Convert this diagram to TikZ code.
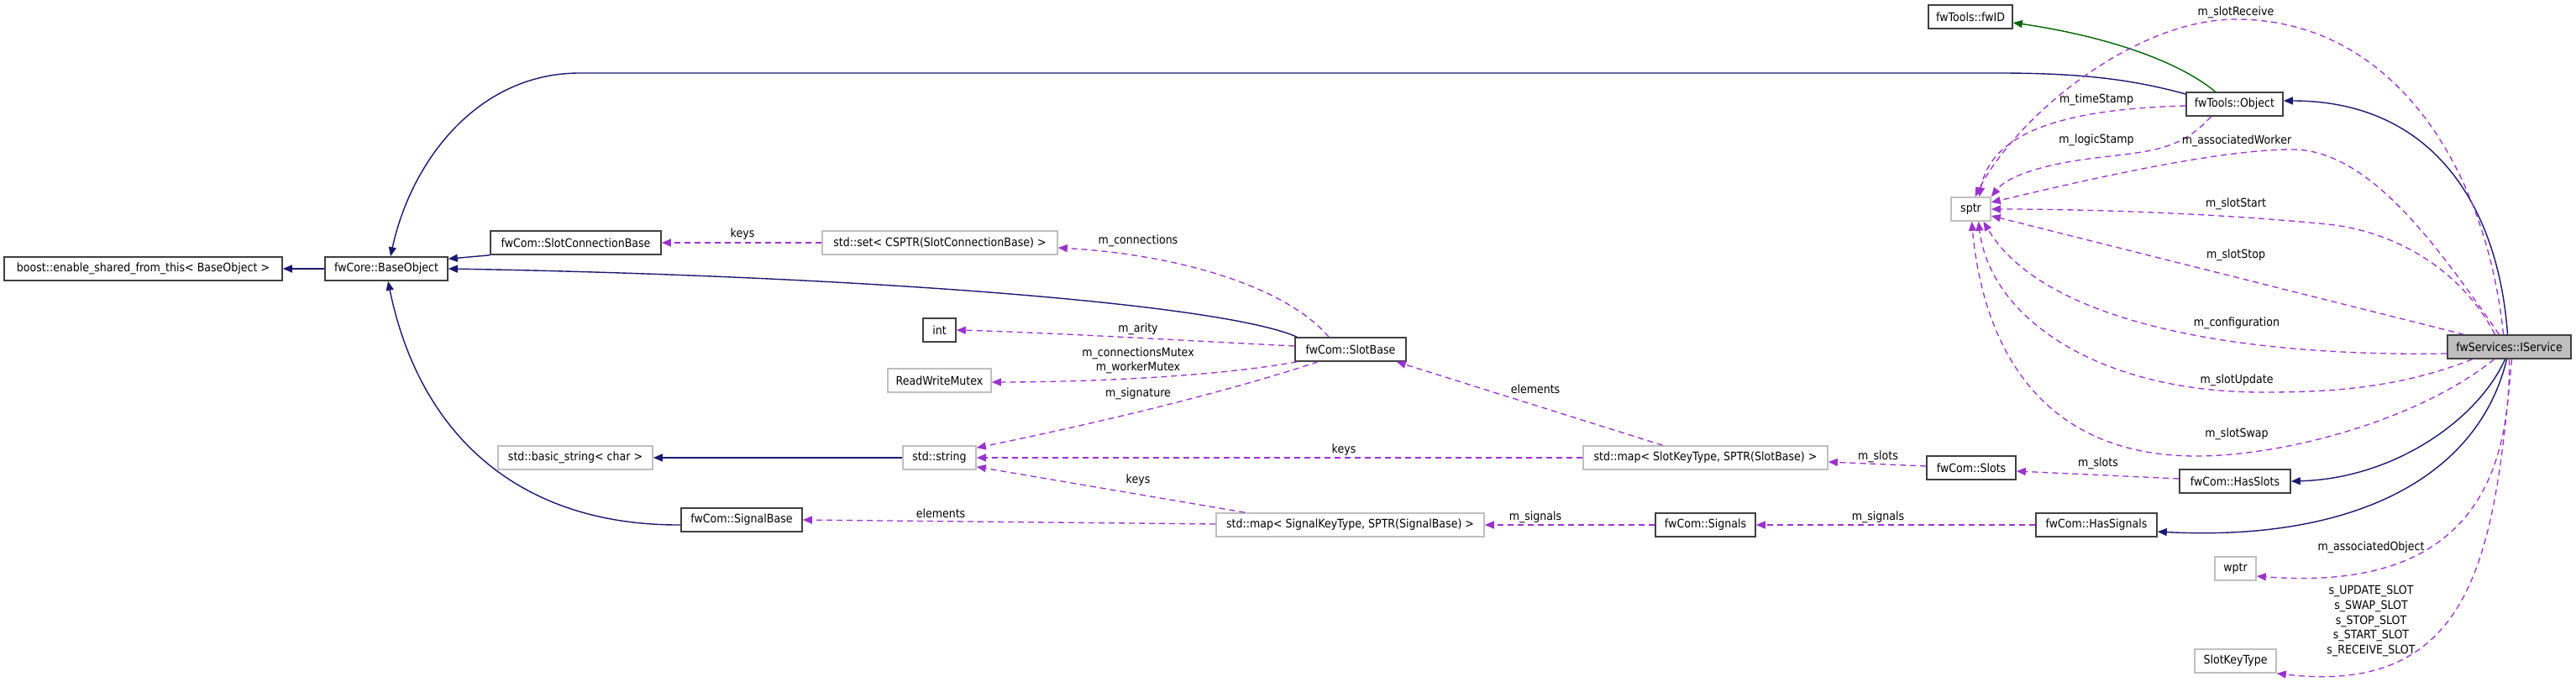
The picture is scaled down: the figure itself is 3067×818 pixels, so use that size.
\documentclass[tikz,border=0pt]{standalone}
\usepackage{fontspec}
\setmainfont{DejaVu Sans}[FakeStretch=0.9]
\usetikzlibrary{arrows.meta,calc}
\definecolor{inhblue}{HTML}{191970}
\definecolor{usepurple}{HTML}{9A32CD}
\definecolor{protgreen}{HTML}{006400}
\definecolor{graybox}{HTML}{BFBFBF}
\tikzset{
  cls/.style={draw=black!75, line width=1.6pt, fill=white, minimum height=28pt, inner sep=0pt, font=\fontsize{14}{16}\selectfont},
  ext/.style={cls, draw=graybox},
  cur/.style={cls, fill=graybox},
  tip/.style={-{Triangle[length=11pt,width=9pt]}},
  inh/.style={draw=inhblue, line width=1.4pt, tip},
  use/.style={draw=usepurple, line width=1.3pt, dash pattern=on 7pt off 5pt, tip},
  grn/.style={draw=protgreen, line width=1.4pt, tip},
  lbl/.style={font=\fontsize{14}{16}\selectfont, inner sep=0pt, text=black},
}
\begin{document}
\begin{tikzpicture}[x=1pt,y=-1pt]
\useasboundingbox (0,0) rectangle (3067,818);
\fill[white] (0,0) rectangle (3067,818);
% nodes
\node[cls, minimum width=331pt] (boost) at (170.5,320) {boost::enable\_shared\_from\_this< BaseObject >};
\node[cls, minimum width=146pt] (base) at (460,320) {fwCore::BaseObject};
\node[cls, minimum width=203pt] (scb) at (685.5,289) {fwCom::SlotConnectionBase};
\node[ext, minimum width=280pt] (set) at (1119,289) {std::set< CSPTR(SlotConnectionBase) >};
\node[cls, minimum width=39pt] (int) at (1118.5,393) {int};
\node[ext, minimum width=123pt] (rwm) at (1118.5,453) {ReadWriteMutex};
\node[cls, minimum width=132pt] (slotbase) at (1608,416) {fwCom::SlotBase};
\node[ext, minimum width=184pt] (basicstr) at (685,545) {std::basic\_string< char >};
\node[ext, minimum width=87pt] (string) at (1118.5,545) {std::string};
\node[cls, minimum width=144pt] (sigbase) at (883,619) {fwCom::SignalBase};
\node[ext, minimum width=319pt] (mapsig) at (1607.5,625) {std::map< SignalKeyType, SPTR(SignalBase) >};
\node[ext, minimum width=291pt] (mapslot) at (2030.5,545) {std::map< SlotKeyType, SPTR(SlotBase) >};
\node[cls, minimum width=106pt] (slots) at (2347,557) {fwCom::Slots};
\node[cls, minimum width=119pt] (signals) at (2030.5,625) {fwCom::Signals};
\node[cls, minimum width=132pt] (hasslots) at (2661,573) {fwCom::HasSlots};
\node[cls, minimum width=144pt] (hassignals) at (2496,625) {fwCom::HasSignals};
\node[cur, minimum width=147pt] (iservice) at (2987.5,413) {fwServices::IService};
\node[ext, minimum width=47pt] (sptr) at (2346.5,249) {sptr};
\node[cls, minimum width=115pt] (object) at (2660.5,124) {fwTools::Object};
\node[cls, minimum width=100pt] (fwid) at (2346,20) {fwTools::fwID};
\node[ext, minimum width=49pt] (wptr) at (2661.5,677) {wptr};
\node[ext, minimum width=97pt] (slotkey) at (2661.5,787) {SlotKeyType};
% inheritance
\draw[inh] (base.west) -- (boost.east);
\draw[inh] (scb.south west) -- ($(base.north east)+(0,3)$);
\draw[inh] ($(slotbase.north west)+(3,0)$) .. controls (1450,360) and (1000,328) .. (base.east);
\draw[inh] ($(object.west)+(0,-12)$) .. controls (2540,95) and (2480,87) .. (2380,87) -- (690,87) .. controls (570,87) and (490,190) .. ($(base.north)+(5,0)$);
\draw[inh] ($(sigbase.west)+(0,6)$) .. controls (620,626) and (500,520) .. ($(base.south)+(2,0)$);
\draw[inh] (string.west) -- (basicstr.east);
\draw[inh] ($(iservice.north)+(-2,0)$) .. controls (2975,250) and (2900,120) .. ($(object.east)+(0,-4)$);
\draw[inh] ($(iservice.south)+(-5,0)$) .. controls (2950,500) and (2850,570) .. (hasslots.east);
\draw[inh] ($(iservice.south)+(-3,0)$) .. controls (2950,570) and (2800,645) .. ($(hassignals.east)+(0,8)$);
\draw[grn] ($(object.north)+(-23,0)$) .. controls (2590,70) and (2500,42) .. ($(fwid.east)+(0,7)$);
% usage
\draw[use] (set.west) -- (scb.east) node[lbl, at={(884,279)}] {keys};
\draw[use] ($(slotbase.north)+(-26,0)$) .. controls (1530,340) and (1400,303) .. ($(set.east)+(0,6)$) node[lbl, at={(1355,287)}] {m\_connections};
\draw[use] ($(slotbase.west)+(0,-4)$) .. controls (1400,405) and (1250,396) .. (int.east) node[lbl, at={(1355,392)}] {m\_arity};
\draw[use] ($(slotbase.south west)+(3,0)$) .. controls (1450,448) and (1300,455) .. ($(rwm.east)+(0,2)$) node[lbl, at={(1355,421)}] {m\_connectionsMutex} node[lbl, at={(1355,438)}] {m\_workerMutex};
\draw[use] ($(slotbase.south west)+(28,0)$) .. controls (1450,470) and (1300,505) .. ($(string.north east)+(0,3)$) node[lbl, at={(1355,469)}] {m\_signature};
\draw[use] (mapslot.west) -- (string.east) node[lbl, at={(1600,536)}] {keys};
\draw[use] ($(mapsig.north west)+(35,0)$) -- ($(string.south east)+(0,-4)$) node[lbl, at={(1355,572)}] {keys};
\draw[use] ($(mapsig.west)+(0,-1)$) -- (sigbase.east) node[lbl, at={(1120,611)}] {elements};
\draw[use] ($(mapslot.north)+(-51,0)$) -- ($(slotbase.south east)+(-12,0)$) node[lbl, at={(1828,463)}] {elements};
\draw[use] ($(slots.west)+(0,-2)$) -- ($(mapslot.east)+(0,5)$) node[lbl, at={(2236,544)}] {m\_slots};
\draw[use] (signals.west) -- (mapsig.east) node[lbl, at={(1828,616)}] {m\_signals};
\draw[use] (hassignals.west) -- (signals.east) node[lbl, at={(2236,616)}] {m\_signals};
\draw[use] ($(hasslots.west)+(0,-3)$) -- ($(slots.east)+(0,4)$) node[lbl, at={(2498,552)}] {m\_slots};
% sptr members
\draw[use] ($(object.west)+(0,2)$) .. controls (2450,130) and (2370,160) .. ($(sptr.north)+(10,0)$) node[lbl, at={(2496,119)}] {m\_timeStamp};
\draw[use] ($(object.south)+(-28,0)$) .. controls (2595,180) and (2560,180) .. (2495,188) .. controls (2430,196) and (2390,210) .. (sptr.north east) node[lbl, at={(2496,167)}] {m\_logicStamp};
\draw[use] ($(iservice.north)+(-7,0)$) .. controls (2960,200) and (2850,23) .. (2662,23) .. controls (2540,23) and (2400,140) .. ($(sptr.north)+(5,0)$) node[lbl, at={(2662,15)}] {m\_slotReceive};
\draw[use] ($(iservice.north)+(-12,0)$) .. controls (2900,290) and (2820,178) .. (2729,178) .. controls (2640,178) and (2480,215) .. ($(sptr.east)+(0,-8)$) node[lbl, at={(2663,168)}] {m\_associatedWorker};
\draw[use] ($(iservice.north)+(-17,0)$) .. controls (2930,320) and (2850,275) .. (2771,267) .. controls (2650,255) and (2500,249) .. (sptr.east) node[lbl, at={(2662,243)}] {m\_slotStart};
\draw[use] ($(iservice.north)+(-54,0)$) -- ($(sptr.east)+(0,8)$) node[lbl, at={(2662,304)}] {m\_slotStop};
\draw[use] ($(iservice.west)+(0,8)$) .. controls (2650,425) and (2430,380) .. ($(sptr.south)+(15,0)$) node[lbl, at={(2663,385)}] {m\_configuration};
\draw[use] ($(iservice.south)+(-44,0)$) .. controls (2850,465) and (2760,467) .. (2693,467) .. controls (2500,467) and (2370,380) .. ($(sptr.south)+(9,0)$) node[lbl, at={(2663,453)}] {m\_slotUpdate};
\draw[use] ($(iservice.south)+(-18,0)$) .. controls (2880,500) and (2720,543) .. (2615,543) .. controls (2420,543) and (2360,400) .. ($(sptr.south)+(1,0)$) node[lbl, at={(2663,517)}] {m\_slotSwap};
\draw[use] ($(iservice.south)+(0,0)$) .. controls (2990,640) and (2870,700) .. ($(wptr.east)+(0,9)$) node[lbl, at={(2823,652)}] {m\_associatedObject};
\draw[use] ($(iservice.south)+(3,0)$) .. controls (2970,650) and (2950,830) .. (slotkey.south east) node[lbl, align=center, font=\fontsize{14}{17.7}\selectfont, at={(2823,739.5)}] {s\_UPDATE\_SLOT\\s\_SWAP\_SLOT\\s\_STOP\_SLOT\\s\_START\_SLOT\\s\_RECEIVE\_SLOT};
\end{tikzpicture}
\end{document}
